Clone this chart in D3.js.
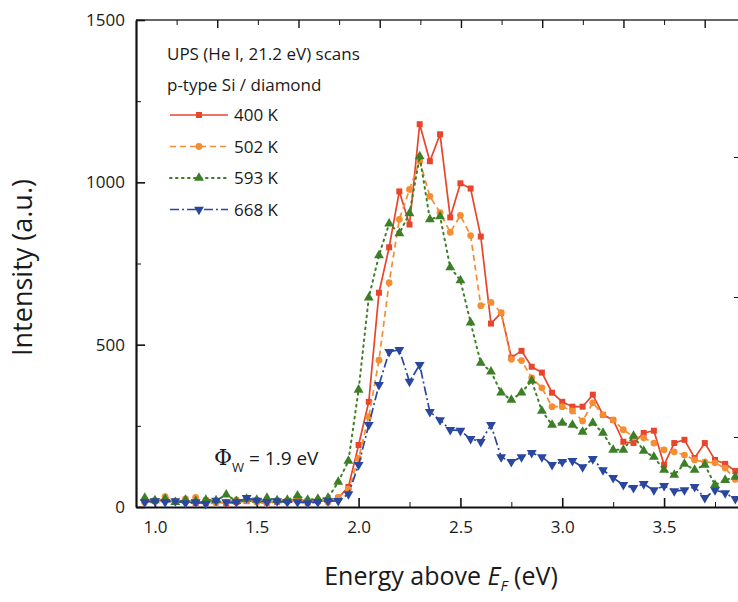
<!DOCTYPE html>
<meta charset="utf-8">
<script src="https://d3js.org/d3.v7.min.js"></script>
<style>
body { margin: 0; background: #fff; }
svg text { font-family: "Open Sans", "Noto Sans", sans-serif; fill: #1a1a1a; }
.axis path, .axis line { stroke: #111; }
</style>
<body></body>
<script>

// energies (eV) of the scan points
var energy = [0.95, 1.00, 1.05, 1.10, 1.15, 1.20, 1.25, 1.30, 1.35, 1.40,
  1.45, 1.50, 1.55, 1.60, 1.65, 1.70, 1.75, 1.80, 1.85, 1.90,
  1.95, 2.00, 2.05, 2.10, 2.15, 2.20, 2.25, 2.30, 2.35, 2.40,
  2.45, 2.50, 2.55, 2.60, 2.65, 2.70, 2.75, 2.80, 2.85, 2.90,
  2.95, 3.00, 3.05, 3.10, 3.15, 3.20, 3.25, 3.30, 3.35, 3.40,
  3.45, 3.50, 3.55, 3.60, 3.65, 3.70, 3.75, 3.80, 3.85];

var k400 = [20, 18, 22, 15, 18, 12, 20, 18, 10, 15, 18, 20, 15, 16, 18, 20, 14, 18, 20, 28,
  62, 191, 324, 660, 800, 972, 870, 1179, 1065, 1148,
  892, 997, 981, 833, 565, 598, 460, 481, 432, 414,
  352, 324, 309, 309, 346, 284, 268, 201, 197, 228,
  235, 130, 197, 207, 151, 197, 145, 133, 111];

var k502 = [15, 20, 32, 18, 25, 30, 10, 12, 15, 22, 20, 15, 10, 20, 18, 25, 18, 22, 15, 30,
  55, 150, 278, 452, 691, 886, 978, 1065, 957, 907,
  846, 898, 836, 620, 630, 599, 455, 451, 398, 367,
  309, 309, 296, 265, 321, 284, 268, 238, 216, 213,
  197, 176, 170, 160, 145, 139, 136, 120, 85];

var k593 = [28, 20, 25, 15, 22, 18, 22, 20, 38, 18, 25, 22, 28, 20, 22, 35, 22, 25, 28, 77,
  142, 361, 645, 775, 873, 843, 904, 1080, 886, 895,
  738, 698, 568, 444, 417, 352, 330, 352, 389, 296,
  253, 259, 253, 231, 259, 228, 176, 176, 219, 173,
  154, 114, 99, 133, 114, 130, 68, 83, 93];

var k668 = [15, 18, 15, 18, 12, 15, 10, 20, 15, 15, 28, 20, 15, 18, 15, 15, 12, 15, 18, 19,
  40, 130, 253, 376, 478, 484, 386, 438, 293, 268,
  238, 235, 210, 201, 253, 154, 139, 154, 167, 154,
  130, 139, 142, 123, 148, 114, 90, 68, 59, 71,
  52, 65, 49, 52, 62, 28, 52, 43, 25];

var seriesNames = ["400 K", "502 K", "593 K", "668 K"];

var margin = {top: 20, right: 0, bottom: 95, left: 136};
var width = 738 - margin.left - margin.right,
    height = 602 - margin.top - margin.bottom;

var svg = d3.select("body").append("svg")
    .attr("width", 738)
    .attr("height", 602)
  .append("g")
    .attr("transform", "translate(" + margin.left + "," + margin.top + ")");

var xScale = d3.scaleLinear().domain([0.907, 3.863]).range([0, width]);
var yScale = d3.scaleLinear().domain([0, 1500]).range([height, 0]);
// ticks along the top and right edges belong to a neighbouring panel
var topScale = d3.scaleLinear().domain([0, 7.41]).range([0, width]);
var rightScale = d3.scaleLinear().domain([0, 2]).range([417, 137]);

var styles = [
  {color: "#e8452c", dash: null, symbol: d3.symbolSquare, size: 36, rot: 0},
  {color: "#f58d33", dash: "6,4", symbol: d3.symbolCircle, size: 36, rot: 0},
  {color: "#3d7f27", dash: "1.6,4.4", symbol: d3.symbolTriangle, size: 42, rot: 0},
  {color: "#2a47a0", dash: "9,3,2,3", symbol: d3.symbolTriangle, size: 42, rot: 180}
];
var data = [k400, k502, k593, k668];

// frame
svg.append("line").attr("x1", 0).attr("x2", width).attr("y1", 0).attr("y2", 0)
  .attr("stroke", "#333").attr("stroke-width", 1.4);

// axes
svg.append("g").attr("class", "axis")
  .attr("transform", "translate(0," + height + ")")
  .call(d3.axisBottom(xScale).tickValues([1.25, 1.75, 2.25, 2.75, 3.25, 3.75]).tickSize(-5).tickFormat(""))
  .call(function(g) { g.select(".domain").remove(); });

var xAxisGroup = svg.append("g").attr("class", "axis")
  .attr("transform", "translate(0," + height + ")")
  .call(d3.axisBottom(xScale).tickValues([1.0, 1.5, 2.0, 2.5, 3.0, 3.5]).tickSizeInner(-9).tickSizeOuter(0)
    .tickPadding(14).tickFormat(d3.format(".1f")));
xAxisGroup.select(".domain").attr("stroke-width", 2.2);
xAxisGroup.selectAll(".tick line").attr("stroke-width", 1.6);
xAxisGroup.selectAll("text").style("font-size", "17px");

svg.append("g").attr("class", "axis")
  .call(d3.axisLeft(yScale).tickValues([250, 750, 1250]).tickSize(-5).tickFormat(""))
  .call(function(g) { g.select(".domain").remove(); });

var yAxisGroup = svg.append("g").attr("class", "axis")
  .call(d3.axisLeft(yScale).tickValues([0, 500, 1000, 1500]).tickSizeInner(-9).tickSizeOuter(0)
    .tickPadding(11).tickFormat(d3.format("d")));
yAxisGroup.select(".domain").attr("stroke-width", 2.2);
yAxisGroup.selectAll(".tick line").attr("stroke-width", 1.6);
yAxisGroup.selectAll("text").style("font-size", "17px");

svg.append("g").attr("class", "axis")
  .call(d3.axisTop(topScale).tickValues(d3.range(0.5, 7.5, 1)).tickSize(-5).tickFormat(""))
  .call(function(g) { g.select(".domain").remove(); });
svg.append("g").attr("class", "axis")
  .call(d3.axisTop(topScale).tickValues(d3.range(1, 8, 1)).tickSize(-8).tickFormat(""))
  .call(function(g) { g.select(".domain").remove(); g.selectAll("line").attr("stroke-width", 1.4); });

svg.append("g").attr("class", "axis")
  .attr("transform", "translate(" + (width + 3) + ",0)")
  .call(d3.axisRight(rightScale).ticks(2).tickSize(-7).tickFormat(""))
  .call(function(g) { g.select(".domain").remove(); });

// series
var line = d3.line()
  .x(function(d, i) { return xScale(energy[i]); })
  .y(function(d) { return yScale(d); });

data.forEach(function(vals, s) {
  var st = styles[s];
  svg.append("path")
    .datum(vals)
    .attr("fill", "none")
    .attr("stroke", st.color)
    .attr("stroke-width", s === 2 ? 2 : 1.7)
    .attr("stroke-linecap", s === 2 ? "round" : "butt")
    .attr("stroke-dasharray", st.dash)
    .attr("d", line);
  svg.selectAll(".m" + s)
    .data(vals)
    .enter().append("path")
    .attr("class", "m" + s)
    .attr("fill", st.color)
    .attr("d", d3.symbol().type(st.symbol).size(st.size))
    .attr("transform", function(d, i) {
      return "translate(" + xScale(energy[i]) + "," + yScale(d) + ") rotate(" + st.rot + ")";
    });
});

// legend
var legend = svg.append("g").attr("transform", "translate(31,0)");
legend.append("text").attr("x", 0).attr("y", 40).style("font-size", "17px").text("UPS (He I, 21.2 eV) scans");
legend.append("text").attr("x", 0).attr("y", 71).style("font-size", "17px").text("p-type Si / diamond");
seriesNames.forEach(function(name, s) {
  var st = styles[s];
  var yy = 95 + s * 31.5;
  legend.append("line").attr("x1", 3).attr("x2", 61).attr("y1", yy).attr("y2", yy)
    .attr("stroke", st.color).attr("stroke-width", s === 2 ? 2 : 1.7)
    .attr("stroke-linecap", s === 2 ? "round" : "butt")
    .attr("stroke-dasharray", st.dash);
  legend.append("path")
    .attr("fill", st.color)
    .attr("d", d3.symbol().type(st.symbol).size(st.size))
    .attr("transform", "translate(32," + yy + ") rotate(" + st.rot + ")");
  legend.append("text").attr("x", 67).attr("y", yy + 6).style("font-size", "17px").text(name);
});

// work function note
var note = svg.append("text").attr("x", 78).attr("y", 445).style("font-size", "19px");
note.append("tspan").style("font-family", "'DejaVu Serif', serif").style("font-size", "22px").text("\u03A6");
note.append("tspan").attr("dy", 7).style("font-size", "13px").text("W");
note.append("tspan").attr("dy", -7).text(" = 1.9 eV");

// axis titles
svg.append("text")
  .attr("transform", "translate(-104," + (height / 2 + 4) + ") rotate(-90)")
  .attr("text-anchor", "middle")
  .style("font-size", "27px")
  .text("Intensity (a.u.)");

var xt = svg.append("text")
  .attr("x", 305).attr("y", height + 78)
  .attr("text-anchor", "middle")
  .style("font-size", "25px");
xt.append("tspan").text("Energy above ");
xt.append("tspan").style("font-style", "italic").text("E");
xt.append("tspan").style("font-style", "italic").style("font-size", "15px").attr("dy", 6).text("F");
xt.append("tspan").attr("dy", -6).text(" (eV)");

</script>
